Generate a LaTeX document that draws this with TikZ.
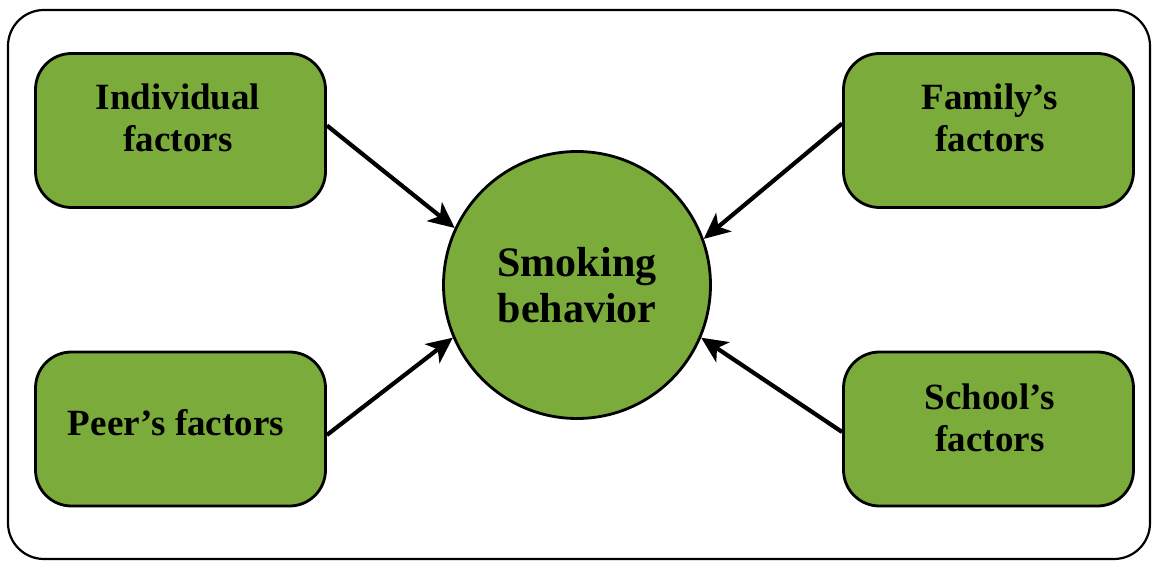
\documentclass[tikz,border=0pt]{standalone}
\usepackage{fontspec}
\setmainfont{Liberation Serif}
\usetikzlibrary{arrows.meta,calc}
\definecolor{boxgreen}{RGB}{122,171,59}
\begin{document}
\begin{tikzpicture}[x=1pt,y=-1pt,
  factorbox/.style={draw=black,line width=2.8pt,fill=boxgreen,rounded corners=36pt,
    minimum width=290pt,minimum height=154pt,inner sep=0pt},
  boxtext/.style={align=center,font=\bfseries\fontsize{37}{42}\selectfont,inner sep=0pt},
  centercircle/.style={draw=black,line width=2.8pt,fill=boxgreen,circle,minimum size=267pt,inner sep=0pt,
    align=center,font=\bfseries\fontsize{42}{46}\selectfont},
  influence/.style={line width=4.2pt,-{Stealth[length=26pt,width=24pt,inset=7pt]}}]
\useasboundingbox (0,0) rectangle (1152,561);
\draw[line width=2.2pt,rounded corners=36pt] (8,10) rectangle (1150,559);
\node[factorbox] (ind) at (180.5,130.5) {};
\node[factorbox] (fam) at (988.5,130.5) {};
\node[factorbox] (peer) at (180.5,429) {};
\node[factorbox] (sch) at (988.5,429) {};
\node[boxtext] (indt) at (178,118) {Individual\\factors};
\node[boxtext] (famt) at (990,118) {Family’s\\factors};
\node[boxtext] (peert) at (176,423) {Peer’s factors};
\node[boxtext] (scht) at (990,418) {School’s\\factors};
\node[centercircle] (sm) at (577,285) {Smoking\\behavior};
\draw[influence] ([yshift=5pt]ind.east) -- (sm.155.7);
\draw[influence] ([yshift=7pt]fam.west) -- (sm.20.1);
\draw[influence] ([yshift=-6pt]peer.east) -- (sm.203.5);
\draw[influence] ([yshift=-3pt]sch.west) -- (sm.-23.1);
\end{tikzpicture}
\end{document}
